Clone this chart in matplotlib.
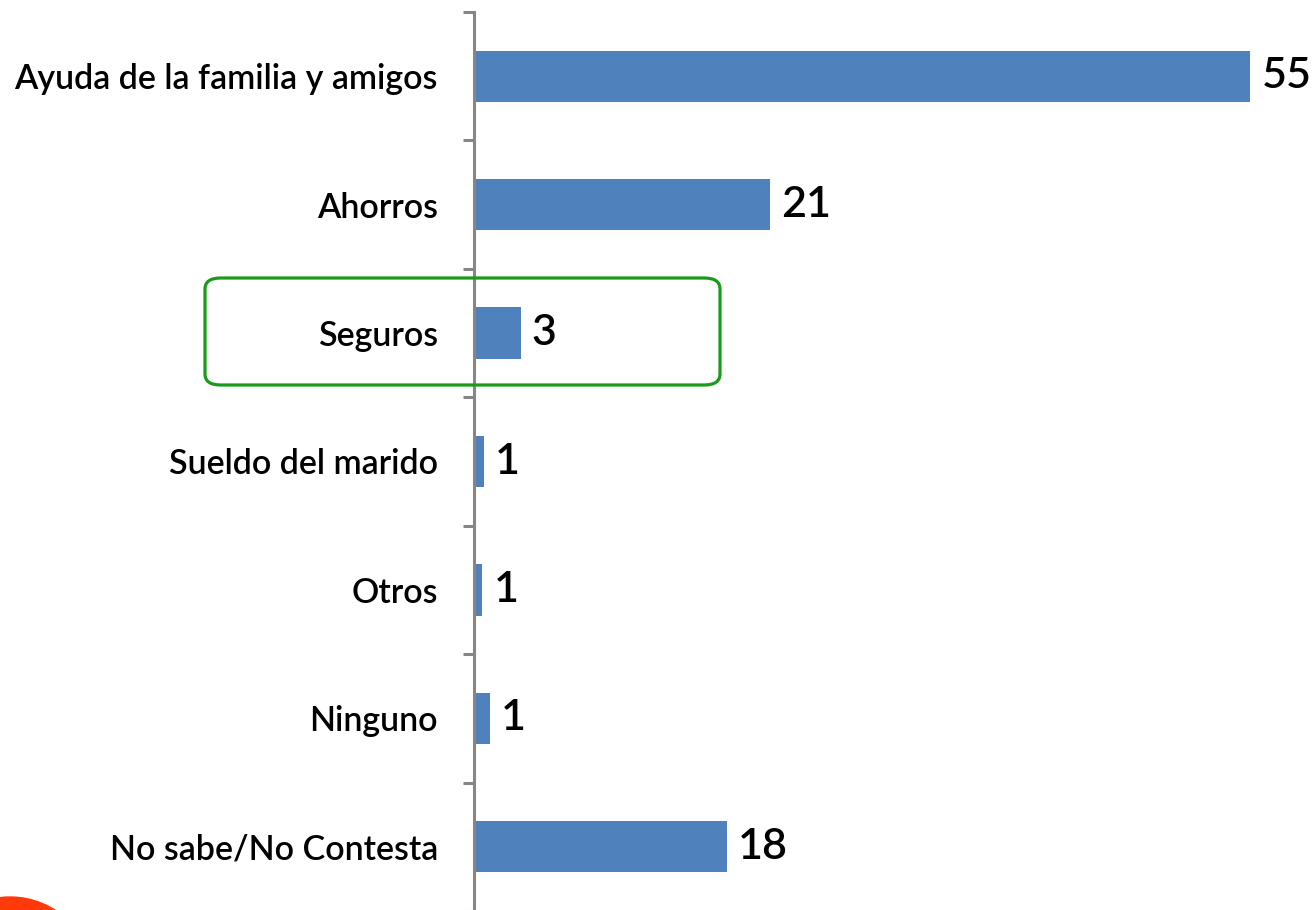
import matplotlib.pyplot as plt
from matplotlib.patches import FancyBboxPatch, Ellipse
import numpy as np

# Data
categories = ["Ayuda de la familia y amigos", "Ahorros", "Seguros",
              "Sueldo del marido", "Otros", "Ninguno", "No sabe/No Contesta"]
values = [55, 21, 3.3, 0.7, 0.6, 1.1, 17.9]
labels = ["55", "21", "3", "1", "1", "1", "18"]

W, H = 1315, 910
fig = plt.figure(figsize=(W / 100, H / 100), dpi=100)

# axes placed so the value axis sits at x=474 px and spans y=12..911 px
ax = fig.add_axes([474 / W, -1 / H, 1 - 474 / W, (911 - 12) / H])

y = np.arange(len(categories))
ax.barh(y, values, height=0.40, color="#4F81BD", zorder=2)
ax.set_ylim(len(categories) - 0.5, -0.5)
ax.set_xlim(0, 59.6)

for yi, v, lab in zip(y, values, labels):
    ax.text(v + 0.8, yi, lab, va="center", ha="left",
            fontsize=31, family="Lato", fontweight="semibold", color="black")

for s in ["top", "right", "bottom"]:
    ax.spines[s].set_visible(False)
ax.spines["left"].set_color("#868686")
ax.spines["left"].set_linewidth(2.2)
ax.set_xticks([])

ax.set_yticks(y)
ax.set_yticklabels(categories, fontsize=24.5, family="Lato", fontweight="semibold")
ax.tick_params(axis="y", which="major", length=0, pad=26)
ax.set_yticks(np.arange(-0.5, len(categories)), minor=True)
ax.tick_params(axis="y", which="minor", length=8, width=2.2, color="#868686")

# green rounded highlight around "Seguros"
box = FancyBboxPatch((205 / W, 1 - 385 / H), (720 - 205) / W, (385 - 278) / H,
                     boxstyle="round,pad=0,rounding_size=0.012",
                     transform=fig.transFigure, fill=False,
                     edgecolor="#1A9A1A", linewidth=2.3, zorder=5)
fig.patches.append(box)

# orange-red circle peeking from the bottom-left corner
circ = Ellipse((10 / W, 1 - 981 / H), 2 * 84 / W, 2 * 84 / H,
               transform=fig.transFigure, color="#FF3A0A", zorder=1)
fig.patches.append(circ)

fig.savefig("out.png", dpi=100)
